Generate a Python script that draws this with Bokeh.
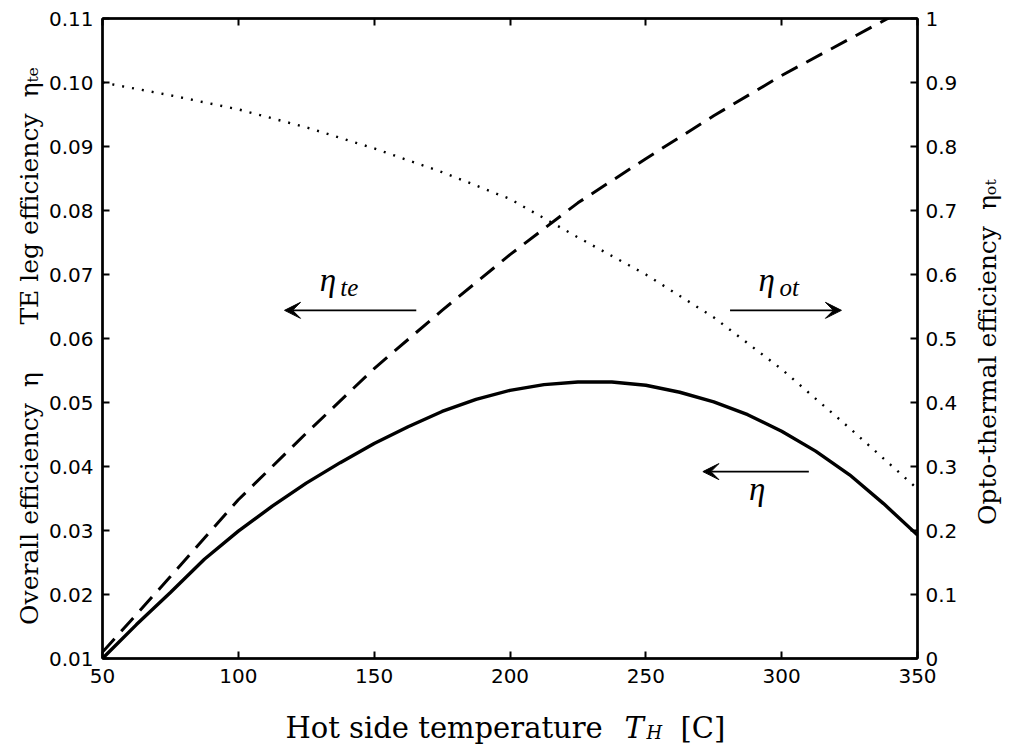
from bokeh.plotting import figure
from bokeh.layouts import column, row
from bokeh.models import (Range1d, LinearAxis, FixedTicker, Label, Arrow, VeeHead,
                          NumeralTickFormatter, CustomJSTickFormatter)
from bokeh.core.properties import value
from bokeh.embed import file_html
from bokeh.resources import INLINE

# ---- data ----
temp = [50, 62.5, 75, 87.5, 100, 112.5, 125, 137.5, 150, 162.5, 175, 187.5, 200,
        212.5, 225, 237.5, 250, 262.5, 275, 287.5, 300, 312.5, 325, 337.5, 350]
eta_overall = [0.0100, 0.0153, 0.0203, 0.0255, 0.0299, 0.0338, 0.0374, 0.0406, 0.0436,
               0.0462, 0.0486, 0.0505, 0.0519, 0.0528, 0.0532, 0.0532, 0.0527, 0.0516,
               0.0501, 0.0481, 0.0455, 0.0424, 0.0387, 0.0342, 0.0293]

temp_coarse = [50, 75, 100, 125, 150, 175, 200, 225, 250, 275, 300, 325, 350]
eta_te = [0.0110, 0.0228, 0.0348, 0.0452, 0.0553, 0.0644, 0.0731, 0.0812,
          0.0881, 0.0948, 0.1011, 0.1068, 0.1125]
eta_ot = [0.900, 0.880, 0.858, 0.830, 0.797, 0.760, 0.718, 0.658,
          0.600, 0.533, 0.452, 0.360, 0.265]

x_ticks = [50, 100, 150, 200, 250, 300, 350]
left_ticks = [0.01, 0.02, 0.03, 0.04, 0.05, 0.06, 0.07, 0.08, 0.09, 0.10, 0.11]
right_ticks = [0.0, 0.1, 0.2, 0.3, 0.4, 0.5, 0.6, 0.7, 0.8, 0.9, 1.0]

SERIF = "DejaVu Serif"
SANS = "DejaVu Sans"
NB = "\u00a0"

LEFT_W, RIGHT_X, TOP_H, TOTAL_W, TOTAL_H = 45, 960, 700, 1009, 744

# ---- main plot ----
p = figure(width=RIGHT_X - LEFT_W, height=TOP_H,
           x_range=Range1d(50, 350), y_range=Range1d(0.01, 0.11),
           output_backend="svg", toolbar_location=None,
           min_border_left=101 - LEFT_W, min_border_right=RIGHT_X - 920,
           min_border_top=18, min_border_bottom=TOP_H - 658)
p.extra_y_ranges = {"right": Range1d(0, 1)}
p.xgrid.visible = False
p.ygrid.visible = False
p.outline_line_color = "black"
p.outline_line_width = 2
p.background_fill_color = "white"
p.border_fill_color = "white"


def style_axis(ax):
    ax.axis_line_width = 2.5
    ax.axis_line_color = "black"
    ax.major_tick_in = 7
    ax.major_tick_out = 0
    ax.major_tick_line_width = 2
    ax.minor_tick_in = 0
    ax.minor_tick_out = 0
    ax.major_label_text_font = SANS
    ax.major_label_text_font_size = "20px"
    ax.major_label_text_color = "black"


xa = p.xaxis[0]
xa.ticker = FixedTicker(ticks=x_ticks)
style_axis(xa)
xa.major_label_standoff = 10

ya = p.yaxis[0]
ya.ticker = FixedTicker(ticks=left_ticks)
ya.formatter = NumeralTickFormatter(format="0.00")
style_axis(ya)
ya.major_label_standoff = 9

ra = LinearAxis(y_range_name="right", ticker=FixedTicker(ticks=right_ticks),
                formatter=NumeralTickFormatter(format="0.[0]"))
style_axis(ra)
ra.major_label_standoff = 8
p.add_layout(ra, "right")

ta = LinearAxis(ticker=FixedTicker(ticks=x_ticks),
                formatter=CustomJSTickFormatter(code="return ''"))
style_axis(ta)
ta.major_label_text_font_size = "0px"
ta.major_label_standoff = 0
p.add_layout(ta, "above")

# ---- curves ----
p.line(temp, eta_overall, line_color="black", line_width=3.4)
p.line(temp_coarse, eta_te, line_color="black", line_width=3, line_dash="18 10")
p.line(temp_coarse, eta_ot, line_color="black", line_width=2.4, line_dash="2 8",
       y_range_name="right")

# ---- arrows and curve labels ----
head = dict(size=16, fill_color="black", line_color="black", line_width=1)
p.add_layout(Arrow(end=VeeHead(**head), x_start=165.5, y_start=0.0644, x_end=117, y_end=0.0644,
                   line_width=1.6, line_color="black"))
p.add_layout(Arrow(end=VeeHead(**head), x_start=281, y_start=0.0644, x_end=322, y_end=0.0644,
                   line_width=1.6, line_color="black"))
p.add_layout(Arrow(end=VeeHead(**head), x_start=310, y_start=0.0392, x_end=271, y_end=0.0392,
                   line_width=1.6, line_color="black"))


def txt(x, y, s, size):
    p.add_layout(Label(x=x, y=y, text=s, text_font="Liberation Serif", text_font_size=size,
                       text_font_style="italic", text_color="black"))


txt(130.0, 0.0664, "η", "33px")
txt(137.5, 0.0659, "te", "25px")
txt(291.5, 0.0664, "η", "33px")
txt(299.2, 0.0659, "ot", "25px")
txt(288.0, 0.0336, "η", "33px")


# ---- title strips (pixel-scaled helper figures) ----
def strip(w, h):
    f = figure(width=w, height=h, x_range=Range1d(0, w), y_range=Range1d(0, h),
               output_backend="svg", toolbar_location=None, min_border=0,
               x_axis_location=None, y_axis_location=None)
    f.grid.visible = False
    f.outline_line_color = None
    f.background_fill_color = "white"
    f.border_fill_color = "white"
    return f


left_title = "Overall efficiency" + NB * 2 + "η" + NB * 6 + "TE leg efficiency" + NB * 2 + "ηₜₑ"
right_title = "Opto-thermal efficiency" + NB * 2 + "ηₒₜ"

left = strip(LEFT_W, TOP_H)
left.text(x=[29], y=[TOP_H - 358], text=[left_title],
          angle=1.5708, text_align="center", text_baseline="middle",
          text_font=value(SERIF), text_font_size="25px", text_color="black")

right = strip(TOTAL_W - RIGHT_X, TOP_H)
right.text(x=[27], y=[TOP_H - 365], text=[right_title],
           angle=1.5708, text_align="center", text_baseline="middle",
           text_font=value(SERIF), text_font_size="25px", text_color="black")

bottom = strip(TOTAL_W, TOTAL_H - TOP_H)
bh = TOTAL_H - TOP_H
bottom.text(x=[285], y=[bh - 27], text=["Hot side temperature"],
            text_font=value(SERIF), text_font_size="29px", text_color="black",
            text_baseline="alphabetic", text_align="left")
bottom.text(x=[624], y=[bh - 27], text=["T"],
            text_font=value(SERIF), text_font_size="29px", text_font_style="italic",
            text_color="black", text_baseline="alphabetic", text_align="left")
bottom.text(x=[646], y=[bh - 32], text=["H"],
            text_font=value(SERIF), text_font_size="18px", text_font_style="italic",
            text_color="black", text_baseline="alphabetic", text_align="left")
bottom.text(x=[680], y=[bh - 27], text=["[C]"],
            text_font=value(SERIF), text_font_size="29px", text_color="black",
            text_baseline="alphabetic", text_align="left")

layout = column(row(left, p, right, spacing=0), bottom, spacing=0)

open("out.html", "w").write(file_html(layout, INLINE))
